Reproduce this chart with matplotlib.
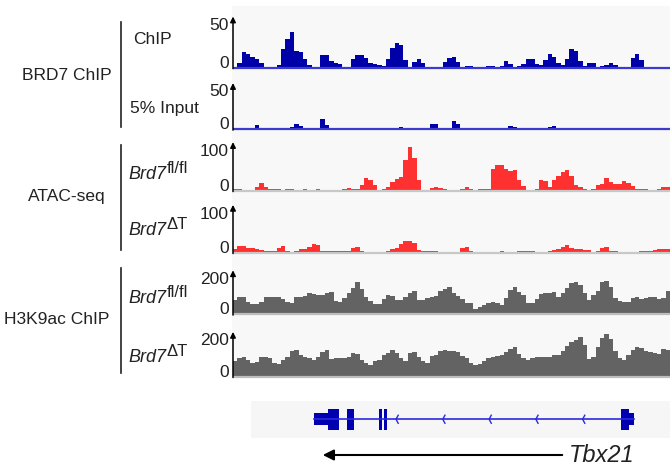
import matplotlib
matplotlib.use("Agg")
import matplotlib.pyplot as plt
import numpy as np
from matplotlib.patches import Rectangle, FancyArrowPatch

plt.rcParams['font.family'] = ['Liberation Sans', 'DejaVu Sans']

W, H = 670, 469

# ---------------- data (100 equal bins across the locus) ----------------
chip = [1, 5, 17, 15, 12, 10, 5, 1, 0, 0, 3, 20, 31, 39, 18, 17, 9, 3, 0, 1,
        14, 14, 7, 5, 4, 0, 1, 9, 14, 14, 11, 5, 4, 3, 2, 10, 22, 27, 25, 8,
        0, 6, 9, 5, 0, 0, 0, 1, 6, 11, 12, 6, 1, 2, 2, 0, 0, 1, 2, 2,
        0, 2, 7, 4, 1, 2, 4, 9, 10, 4, 3, 8, 15, 12, 5, 3, 10, 21, 18, 7,
        2, 5, 5, 1, 2, 3, 5, 3, 0, 0, 0, 11, 15, 8, 0, 0, 0, 0, 0, 0]
inp = [0, 0, 0, 0, 2, 5, 2, 0, 0, 0, 0, 0, 0, 3, 7, 4, 0, 0, 2, 2,
       12, 5, 2, 0, 0, 0, 0, 0, 2, 2, 0, 0, 0, 0, 0, 2, 2, 2, 3, 2,
       2, 0, 0, 0, 0, 6, 6, 0, 0, 0, 10, 6, 2, 0, 1, 0, 0, 0, 0, 0,
       2, 2, 0, 4, 3, 0, 0, 0, 2, 2, 2, 2, 3, 4, 2, 2, 2, 0, 0, 0,
       0, 0, 0, 0, 0, 2, 2, 0, 0, 0, 0, 0, 0, 0, 2, 2, 0, 0, 0, 0]
atac_fl = [3, 3, 0, 0, 0, 8, 17, 9, 4, 3, 3, 2, 3, 5, 2, 0, 3, 0, 0, 3,
           0, 0, 0, 0, 0, 3, 7, 5, 5, 13, 30, 25, 12, 0, 3, 8, 20, 26, 32, 70,
           100, 75, 25, 0, 0, 7, 8, 7, 5, 0, 0, 0, 3, 9, 3, 0, 3, 3, 3, 50,
           60, 60, 50, 45, 48, 25, 10, 2, 2, 5, 25, 22, 8, 25, 35, 42, 48, 35, 12, 9,
           5, 0, 3, 12, 15, 30, 20, 16, 16, 22, 18, 10, 5, 3, 3, 0, 0, 5, 8, 8]
atac_dt = [8, 15, 15, 12, 10, 9, 7, 4, 5, 4, 12, 16, 5, 0, 4, 8, 8, 14, 20, 18,
           3, 3, 3, 3, 3, 3, 3, 12, 13, 4, 0, 0, 0, 0, 0, 5, 8, 10, 20, 28,
           28, 22, 6, 3, 3, 3, 3, 2, 0, 0, 0, 0, 10, 14, 5, 0, 0, 0, 0, 0,
           0, 3, 0, 0, 0, 3, 3, 3, 3, 0, 0, 0, 4, 6, 8, 14, 18, 10, 8, 8,
           7, 7, 0, 5, 12, 13, 5, 4, 0, 0, 0, 0, 0, 4, 4, 4, 6, 9, 8, 9]
h3_fl = [75, 90, 88, 65, 52, 52, 62, 88, 90, 90, 88, 80, 65, 60, 88, 90, 95, 107, 105, 98,
         100, 110, 112, 70, 62, 82, 110, 135, 165, 130, 90, 70, 50, 52, 80, 98, 92, 75, 75, 90,
         110, 118, 75, 72, 82, 90, 92, 120, 130, 140, 110, 95, 80, 58, 55, 25, 38, 45, 60, 62,
         55, 45, 85, 125, 137, 115, 98, 60, 55, 80, 105, 107, 107, 115, 90, 110, 132, 160, 166, 150,
         110, 75, 100, 120, 165, 172, 140, 85, 68, 65, 62, 85, 90, 80, 82, 90, 88, 80, 82, 120]
h3_dt = [80, 95, 100, 85, 68, 75, 100, 100, 92, 70, 62, 85, 100, 130, 135, 110, 100, 95, 85, 100,
         125, 133, 88, 95, 92, 95, 100, 120, 115, 85, 70, 58, 80, 85, 108, 117, 133, 120, 95, 80,
         118, 125, 100, 80, 68, 105, 110, 130, 133, 130, 128, 125, 105, 95, 70, 58, 65, 80, 95, 100,
         105, 108, 125, 140, 150, 115, 95, 82, 92, 100, 100, 98, 100, 108, 108, 130, 155, 175, 185, 200,
         160, 90, 100, 150, 195, 212, 190, 130, 95, 85, 110, 135, 150, 145, 130, 125, 120, 115, 140, 135]

tracks = [
    # values, ymax, tick labels, fill colour, baseline colour, top px, base px
    (chip, 50, ['0', '50'], '#0000a8', '#3b3bd0', 22.0, 67.7),
    (inp, 50, ['0', '50'], '#0000a8', '#3b3bd0', 88.0, 129.3),
    (atac_fl, 100, ['0', '100'], '#ff3030', '#c8c8c8', 147.3, 190.7),
    (atac_dt, 100, ['0', '100'], '#ff3030', '#c8c8c8', 210.0, 252.7),
    (h3_fl, 200, ['0', '200'], '#636363', '#bdbdbd', 275.0, 314.3),
    (h3_dt, 200, ['0', '200'], '#636363', '#bdbdbd', 336.7, 376.7),
]

# gene model (bins, same locus scale 0..100)
gene_start, gene_end = 18.6, 91.7
utr3 = (18.6, 21.7)
exons = [(21.7, 24.2), (26.2, 27.6), (33.5, 34.2), (34.6, 35.2), (88.7, 90.7)]
utr5 = (90.7, 91.7)
chevrons = [37.3, 48.0, 58.6, 69.3, 80.0]

fig = plt.figure(figsize=(W / 100, H / 100), dpi=100)


def fx(px):
    return px / W


def fy(py):
    return 1 - py / H


TXT = '#222222'
X0, X1 = 233.0, 670.0
N = 100
edges = np.arange(N + 1)

# background panel for the tracks
bg = fig.add_axes([fx(232), fy(378), fx(670 - 232), fy(6) - fy(378)])
bg.set_facecolor('#f8f8f8')
bg.set_xticks([]); bg.set_yticks([])
bg.set_xlim(232, 670)
bg.set_ylim(378, 6)
for s in bg.spines.values():
    s.set_visible(False)
bg.set_zorder(0)

for vals, ymax, tl, col, bcol, top, base in tracks:
    ax = fig.add_axes([fx(X0), fy(base), fx(X1 - X0), fy(top) - fy(base)])
    ax.set_zorder(2)
    ax.patch.set_alpha(0)
    v = np.array(vals, dtype=float)
    ax.fill_between(edges, np.append(v, v[-1]), step='post', color=col, lw=0,
                    clip_on=False)
    ax.plot([0, N], [0, 0], color=bcol, lw=1.6, solid_capstyle='butt', clip_on=False)
    ax.set_xlim(0, N)
    ax.set_ylim(0, ymax)
    for s in ax.spines.values():
        s.set_visible(False)
    ax.set_xticks([])
    ax.set_yticks([])
    ax.annotate('', xy=(0, 1.12), xytext=(0, -0.02), xycoords='axes fraction',
                textcoords='axes fraction',
                arrowprops=dict(arrowstyle='-|>', lw=1.1, color='black',
                                mutation_scale=8, shrinkA=0, shrinkB=0))
    # axis value labels, placed in the background panel's pixel frame
    bg.text(229, top + 4, tl[1], ha='right', va='center', fontsize=12.5,
            color=TXT, clip_on=False)
    bg.text(229, base - 4.5, tl[0], ha='right', va='center', fontsize=12.5,
            color=TXT, clip_on=False)

# gene track
g = fig.add_axes([fx(251), fy(437.5), fx(670 - 251), fy(401) - fy(437.5)])
g.set_facecolor('#f6f6f6')
for s in g.spines.values():
    s.set_visible(False)
g.set_xticks([]); g.set_yticks([])
lo = (251 - X0) / (X1 - X0) * N
g.set_xlim(lo, N)
g.set_ylim(-1, 1)
g.plot([gene_start, gene_end], [0, 0], color='#2a2ae0', lw=1.2)
g.add_patch(Rectangle((utr3[0], -0.32), utr3[1] - utr3[0], 0.64, color='#0000b0', lw=0))
g.add_patch(Rectangle((utr5[0], -0.32), utr5[1] - utr5[0], 0.64, color='#0000b0', lw=0))
for a, b in exons:
    g.add_patch(Rectangle((a, -0.58), b - a, 1.16, color='#0000b0', lw=0))
for c in chevrons:
    g.plot([c + 0.5, c, c + 0.5], [0.22, 0, -0.22], color='#2a2ae0', lw=1.0)

# Tbx21 arrow
fig.add_artist(FancyArrowPatch(
    (fx(565), fy(455)), (fx(320), fy(455)), transform=fig.transFigure,
    arrowstyle='-|>', mutation_scale=16, lw=1.5, color='black'))
fig.text(fx(569), fy(455), 'Tbx21', style='italic', fontsize=17, va='center',
         ha='left', color=TXT)

# left annotation labels
fs = 12.5
fig.text(fx(67), fy(75), 'BRD7 ChIP', ha='center', va='center', fontsize=fs, color=TXT)
fig.text(fx(67), fy(196), 'ATAC-seq', ha='center', va='center', fontsize=fs, color=TXT)
fig.text(fx(57), fy(320), 'H3K9ac ChIP', ha='center', va='center', fontsize=fs, color=TXT)
for y0, y1 in [(22, 127), (145, 250), (268, 373)]:
    fig.add_artist(plt.Line2D([fx(121), fx(121)], [fy(y0), fy(y1)], color=TXT, lw=1.2))

fig.text(fx(133), fy(40), 'ChIP', ha='left', va='center', fontsize=fs, color=TXT)
fig.text(fx(130), fy(108), '5% Input', ha='left', va='center', fontsize=fs, color=TXT)
geno = [(179, 'fl/fl'), (235, '\u0394T'), (303, 'fl/fl'), (362, '\u0394T')]
for yb, sup in geno:
    fig.text(fx(128), fy(yb), 'Brd7', style='italic', ha='left', va='baseline',
             fontsize=13, color=TXT)
    fig.text(fx(166.5), fy(yb - 6), sup, ha='left', va='baseline',
             fontsize=12, color=TXT)

fig.savefig('out.png', dpi=100)
